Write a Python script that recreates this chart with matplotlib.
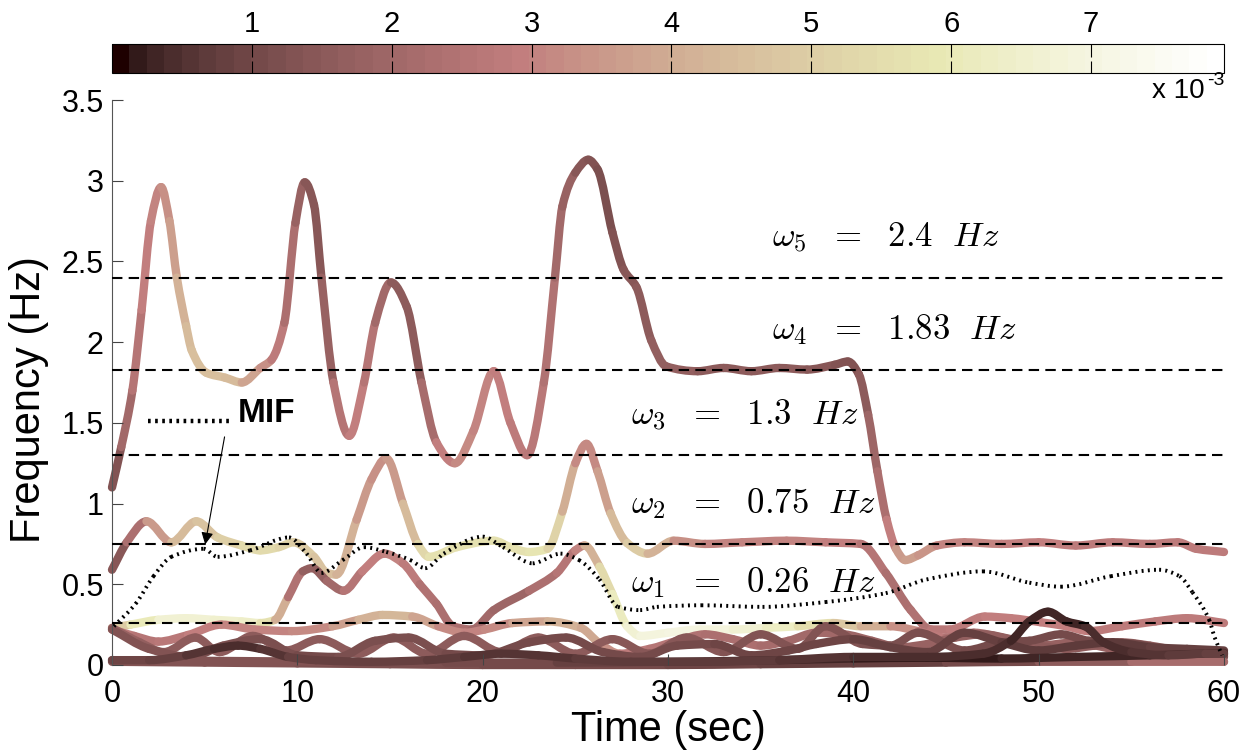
import numpy as np
import matplotlib
matplotlib.use("Agg")
import matplotlib.pyplot as plt
from matplotlib.collections import PatchCollection
from matplotlib.colors import Normalize
from matplotlib.cm import ScalarMappable
from matplotlib.path import Path
from matplotlib.patches import PathPatch

plt.rcParams.update({
    "font.family": ["Liberation Sans", "DejaVu Sans"],
    "mathtext.fontset": "cm",
})

# ---------------------------------------------------------------------------
# data: instantaneous frequency tracks (t [s], f [Hz], amplitude [x1e-3])
# ---------------------------------------------------------------------------
t_a = [0, 0.5, 1.1, 1.6, 2.1, 2.65, 3.1, 3.5, 4.0, 4.3, 5.1, 6.1, 7.0, 8.0, 8.6,
       9.3, 9.9, 10.4, 10.9, 11.3, 11.95, 12.8, 13.6, 14.2, 15.05, 15.9, 16.7,
       17.5, 18.5, 19.5, 20.6, 21.5, 22.4, 23.3, 23.9, 24.3, 25.0, 25.7, 26.2,
       27.0, 27.6, 28.3, 29.1, 29.9, 31.6, 33.0, 34.5, 36.0, 37.5, 39.0, 39.7,
       40.3, 40.8, 41.3, 41.8, 42.3, 42.8, 43.5, 44.5, 46.0, 48.0, 50.0, 52.0,
       54.0, 56.0, 57.5, 58.5, 60.0]
f_a = [1.10, 1.35, 1.70, 2.20, 2.75, 2.96, 2.75, 2.40, 2.10, 1.95, 1.81, 1.78,
       1.75, 1.84, 1.89, 2.12, 2.74, 2.99, 2.85, 2.40, 1.75, 1.42, 1.75, 2.12,
       2.37, 2.22, 1.75, 1.38, 1.25, 1.45, 1.82, 1.50, 1.30, 1.75, 2.40, 2.84,
       3.05, 3.13, 3.07, 2.68, 2.45, 2.34, 2.01, 1.85, 1.82, 1.84, 1.82, 1.84,
       1.83, 1.86, 1.88, 1.80, 1.55, 1.20, 0.90, 0.72, 0.65, 0.68, 0.74, 0.76,
       0.75, 0.76, 0.74, 0.76, 0.75, 0.76, 0.72, 0.70]
a_a = [1.0, 1.6, 2.4, 2.8, 3.0, 3.1, 3.4, 3.9, 4.3, 4.5, 4.6, 4.5, 4.2, 3.5, 3.1,
       2.6, 2.0, 1.5, 1.3, 1.5, 2.2, 3.0, 2.8, 2.3, 1.7, 1.3, 1.7, 2.6, 3.2, 3.2,
       3.0, 2.8, 2.7, 2.6, 2.2, 1.9, 1.6, 1.3, 1.2, 1.2, 1.3, 1.5, 1.6, 1.7, 1.6,
       1.6, 1.6, 1.5, 1.5, 1.3, 1.3, 1.4, 1.7, 2.1, 2.6, 3.2, 3.8, 3.6, 3.2, 3.0,
       3.0, 2.9, 2.9, 2.8, 2.9, 2.8, 2.9, 2.8]

t_b = [0, 0.8, 1.86, 3.2, 4.55, 5.7, 7.0, 8.0, 9.0, 9.8, 10.9, 11.6, 12.1, 13.2,
       14.0, 14.8, 15.7, 16.5, 17.1, 18.6, 20.6, 21.5, 22.5, 23.5, 24.3, 25.0,
       25.6, 26.2, 26.9, 27.8, 28.9, 30.3, 32.0, 34.0, 36.4, 38.5, 40.4, 41.75,
       43.1, 44.2, 45.2, 47.1, 48.5, 50.1, 51.5, 52.7, 54.5, 56.3, 58.0, 60.0]
f_b = [0.59, 0.76, 0.89, 0.76, 0.89, 0.79, 0.74, 0.71, 0.73, 0.76, 0.67, 0.57,
       0.56, 0.90, 1.15, 1.28, 1.00, 0.75, 0.67, 0.73, 0.77, 0.73, 0.70, 0.72,
       0.95, 1.25, 1.37, 1.20, 0.94, 0.755, 0.69, 0.77, 0.75, 0.76, 0.77, 0.76,
       0.75, 0.57, 0.34, 0.22, 0.22, 0.30, 0.29, 0.265, 0.24, 0.21, 0.24, 0.27,
       0.29, 0.26]
a_b = [1.0, 1.8, 2.8, 4.2, 4.6, 4.8, 5.2, 5.5, 5.3, 5.0, 4.8, 4.6, 4.4, 3.8,
       3.4, 3.2, 3.8, 5.0, 5.6, 5.8, 5.6, 5.6, 5.8, 5.8, 4.6, 3.4, 3.0, 3.3, 4.0,
       4.8, 5.0, 3.4, 3.1, 3.0, 3.0, 3.0, 2.8, 2.4, 2.3, 2.6, 2.8, 2.9, 2.9, 3.0,
       2.9, 2.9, 2.8, 2.8, 2.9, 2.8]

t_c = [0, 1.0, 2.5, 4.0, 5.5, 7.0, 8.0, 8.8, 9.5, 10.3, 10.8, 11.6, 12.5, 13.5,
       14.7, 15.7, 16.6, 17.5, 18.4, 19.4, 20.6, 22.5, 24.0, 25.0, 25.5, 26.3,
       27.0, 27.8, 28.5, 30.0, 31.7, 33.5, 35.3, 37.0, 38.9, 40.4, 42.0, 43.5,
       45.0, 46.5, 48.0, 50.0, 52.0, 54.0, 56.0, 58.0, 60.0]
f_c = [0.23, 0.25, 0.28, 0.29, 0.28, 0.27, 0.26, 0.28, 0.42, 0.58, 0.60, 0.52,
       0.46, 0.58, 0.69, 0.63, 0.50, 0.38, 0.24, 0.22, 0.34, 0.46, 0.57, 0.71,
       0.74, 0.61, 0.44, 0.24, 0.18, 0.20, 0.22, 0.22, 0.23, 0.24, 0.26, 0.24,
       0.24, 0.21, 0.17, 0.20, 0.17, 0.12, 0.14, 0.10, 0.08, 0.06, 0.02]
a_c = [4.2, 5.5, 6.5, 6.8, 6.6, 6.5, 6.2, 5.0, 3.0, 1.8, 1.6, 1.8, 2.2, 2.8,
       3.0, 3.0, 2.6, 2.3, 2.4, 2.2, 1.8, 2.1, 2.4, 2.8, 3.4, 5.0, 5.8, 6.5, 6.8,
       7.0, 7.0, 6.8, 6.5, 6.0, 5.0, 4.5, 3.6, 3.0, 2.5, 2.3, 2.0, 1.8, 1.8, 1.7,
       1.8, 2.5, 3.0]

t_d = [0, 1.2, 2.5, 4.1, 5.9, 7.7, 9.7, 11.9, 13.3, 14.6, 16.2, 17.6, 19.05,
       20.1, 21.6, 23.5, 25.3, 26.3, 27.4, 29.0, 30.5, 32.0, 33.5, 35.0, 36.5,
       38.0, 39.5, 41.0, 42.5, 44.0, 45.5, 47.0, 48.5, 50.0, 51.5, 53.0, 54.5,
       56.0, 57.5, 59.0, 60.0]
f_d = [0.22, 0.18, 0.145, 0.186, 0.25, 0.22, 0.21, 0.24, 0.28, 0.31, 0.30, 0.24,
       0.20, 0.22, 0.26, 0.27, 0.23, 0.135, 0.07, 0.10, 0.15, 0.19, 0.16, 0.12,
       0.15, 0.20, 0.19, 0.15, 0.11, 0.13, 0.17, 0.19, 0.16, 0.12, 0.10, 0.12,
       0.14, 0.12, 0.09, 0.07, 0.06]
a_d = [3.0, 2.6, 2.6, 2.8, 3.0, 3.0, 3.0, 3.3, 4.0, 4.4, 4.2, 3.4, 3.0, 3.0,
       3.4, 4.2, 4.2, 3.6, 3.0, 2.6, 2.4, 2.4, 2.3, 2.2, 2.1, 2.0, 2.0, 1.9, 1.8,
       1.8, 1.7, 1.7, 1.7, 1.6, 1.6, 1.6, 1.6, 1.7, 1.7, 1.8, 1.8]

t_e1 = [0, 1.5, 2.8, 4.5, 5.8, 7.6, 9.4, 11.2, 13.3, 15.2, 17.0, 19.0, 21.0,
        23.0, 25.0, 27.0, 29.0, 31.0, 33.0, 35.0, 37.0, 38.5, 40.5, 42.0, 43.5,
        46.0, 48.0, 49.5, 51.2, 52.7, 55.2, 57.5, 60.0]
f_e1 = [0.23, 0.14, 0.08, 0.17, 0.08, 0.18, 0.09, 0.16, 0.07, 0.17, 0.07, 0.18,
        0.08, 0.17, 0.07, 0.16, 0.07, 0.17, 0.08, 0.19, 0.10, 0.24, 0.13, 0.12,
        0.20, 0.09, 0.14, 0.15, 0.19, 0.15, 0.13, 0.08, 0.05]
a_e1 = [1.8, 1.7, 1.6, 1.6, 1.6, 1.6, 1.6, 1.6, 1.5, 1.6, 1.5, 1.6, 1.5, 1.5,
        1.5, 1.5, 1.4, 1.4, 1.4, 1.3, 1.3, 1.3, 1.2, 1.2, 1.2, 1.1, 1.1, 1.1,
        1.1, 1.0, 1.0, 1.1, 1.2]

t_e2 = [0, 2.0, 4.2, 6.0, 8.0, 10.0, 12.2, 14.2, 16.0, 18.0, 20.0, 22.5, 24.5,
        26.5, 28.5, 30.5, 32.5, 34.5, 36.5, 38.0, 40.0, 42.0, 44.0, 46.0, 48.0,
        50.0, 52.0, 54.0, 56.0, 58.0, 60.0]
f_e2 = [0.22, 0.10, 0.05, 0.12, 0.16, 0.06, 0.05, 0.15, 0.17, 0.07, 0.06, 0.14,
        0.17, 0.08, 0.05, 0.12, 0.13, 0.06, 0.09, 0.13, 0.16, 0.11, 0.08, 0.20,
        0.14, 0.09, 0.12, 0.14, 0.11, 0.10, 0.09]
a_e2 = [1.4, 1.3, 1.2, 1.2, 1.2, 1.1, 1.1, 1.2, 1.2, 1.1, 1.1, 1.1, 1.1, 1.0,
        1.0, 1.0, 1.0, 0.9, 0.9, 0.9, 0.9, 0.8, 0.8, 0.8, 0.7, 0.7, 0.7, 0.7,
        0.7, 0.8, 0.8]

t_f = [0, 2.0, 4.0, 5.5, 6.8, 8.0, 9.5, 11.0, 14.0, 17.0, 19.0, 21.0, 23.0,
       25.0, 28.0, 32.0, 36.0, 40.0, 44.0, 47.0, 48.5, 49.5, 50.5, 51.5, 52.5,
       53.5, 55.0, 57.0, 59.0, 60.0]
f_f = [0.03, 0.03, 0.06, 0.10, 0.12, 0.10, 0.05, 0.03, 0.02, 0.03, 0.05, 0.07,
       0.06, 0.04, 0.02, 0.02, 0.03, 0.05, 0.05, 0.07, 0.15, 0.27, 0.33, 0.27,
       0.24, 0.14, 0.08, 0.06, 0.07, 0.07]
a_f = [1.0, 0.9, 0.7, 0.5, 0.4, 0.5, 0.7, 0.8, 0.9, 0.8, 0.6, 0.5, 0.5, 0.6,
       0.7, 0.7, 0.6, 0.5, 0.4, 0.4, 0.35, 0.3, 0.3, 0.3, 0.35, 0.4, 0.5, 0.6,
       0.7, 0.8]

t_g = [0, 5, 10, 15, 20, 25, 30, 35, 40, 45, 50, 55, 60]
f_g = [0.02, 0.015, 0.01, 0.005, 0.0, 0.0, 0.0, 0.005, 0.01, 0.015, 0.02, 0.02,
       0.02]
a_g = [1.3, 1.3, 1.2, 1.2, 1.1, 1.1, 1.0, 0.9, 0.8, 0.9, 1.2, 1.8, 2.6]

t_h = [0, 6, 12, 18, 24, 30, 36, 40, 44, 48, 52, 56, 60]
f_h = [0.03, 0.025, 0.02, 0.015, 0.015, 0.02, 0.03, 0.04, 0.045, 0.04, 0.05,
       0.06, 0.075]
a_h = [1.4, 1.3, 1.2, 1.1, 1.0, 0.6, 0.3, 0.2, 0.2, 0.25, 0.3, 0.4, 0.5]

tracks = [(t_a, f_a, a_a), (t_b, f_b, a_b), (t_c, f_c, a_c), (t_d, f_d, a_d),
          (t_e1, f_e1, a_e1), (t_e2, f_e2, a_e2), (t_g, f_g, a_g),
          (t_h, f_h, a_h), (t_f, f_f, a_f)]

# marginal instantaneous frequency (dotted)
t_mif = [0.1, 1.28, 2.24, 3.2, 4.94, 5.7, 7.45, 9.55, 10.5, 11.3, 12.45, 13.6,
         14.8, 16.1, 16.9, 17.9, 20.0, 21.1, 22.7, 24.2, 25.2, 26.3, 27.3, 28.5,
         29.4, 31.8, 35.1, 38.5, 41.75, 43.95, 47.0, 49.5, 51.2, 53.9, 56.5,
         57.6, 58.3, 59.2, 59.5, 59.9]
f_mif = [0.24, 0.38, 0.55, 0.67, 0.72, 0.67, 0.71, 0.79, 0.69, 0.57, 0.65, 0.73,
         0.70, 0.65, 0.60, 0.69, 0.795, 0.73, 0.63, 0.69, 0.65, 0.53, 0.36, 0.34,
         0.36, 0.37, 0.36, 0.39, 0.445, 0.53, 0.58, 0.51, 0.485, 0.55, 0.59,
         0.55, 0.45, 0.28, 0.17, 0.06]

# mode frequencies
modes = ["1", "2", "3", "4", "5"]
omega = [0.26, 0.75, 1.3, 1.83, 2.4]
omega_txt = ["0.26", "0.75", "1.3", "1.83", "2.4"]

amp_min, amp_max = 0.0, 7.95      # x 1e-3
cbar_ticks = [1, 2, 3, 4, 5, 6, 7]


def hermite_paths(t, f):
    """One cubic Bezier path per knot interval (shape-preserving slopes)."""
    t = np.asarray(t, float)
    f = np.asarray(f, float)
    h = np.diff(t)
    d = np.diff(f) / h
    m = np.empty_like(f)
    m[0], m[-1] = d[0], d[-1]
    for i in range(1, len(f) - 1):
        if d[i - 1] * d[i] <= 0:
            m[i] = 0.0
        else:
            w1, w2 = 2 * h[i] + h[i - 1], h[i] + 2 * h[i - 1]
            m[i] = (w1 + w2) / (w1 / d[i - 1] + w2 / d[i])
    codes = [Path.MOVETO, Path.CURVE4, Path.CURVE4, Path.CURVE4]
    out = []
    for i in range(len(h)):
        v = [(t[i], f[i]),
             (t[i] + h[i] / 3, f[i] + m[i] * h[i] / 3),
             (t[i + 1] - h[i] / 3, f[i + 1] - m[i + 1] * h[i] / 3),
             (t[i + 1], f[i + 1])]
        out.append(Path(v, codes))
    return out


# ---------------------------------------------------------------------------
cmap = plt.get_cmap("pink").resampled(64)
norm = Normalize(amp_min, amp_max)

W, H = 1244, 753
fig = plt.figure(figsize=(W / 100, H / 100), dpi=100)
ax = fig.add_axes([112 / W, 88 / H, 1112 / W, 565 / H])
cax = fig.add_axes([112 / W, 680 / H, 1112 / W, 29 / H])

for t, f, a in tracks:
    paths = hermite_paths(t, f)
    amp_seg = 0.5 * (np.asarray(a[:-1]) + np.asarray(a[1:]))
    pc = PatchCollection([PathPatch(p) for p in paths], facecolors="none",
                         edgecolors=cmap(norm(amp_seg)), linewidths=6.0,
                         capstyle="round", joinstyle="round", clip_on=False)
    ax.add_collection(pc)

# dashed mode lines + labels
for m, w, txt in zip(modes, omega, omega_txt):
    ax.axhline(w, color="black", linestyle=(0, (5, 3)), linewidth=1.5, zorder=5)
    x0 = 35.6 if w > 1.5 else 28.0
    ax.text(x0, w + 0.25, r"$\omega_%s\ \ =\ \ %s\ \ Hz$" % (m, txt),
            fontsize=25, va="center", ha="left", zorder=6)

# MIF curve as one smooth dotted path
mif_paths = hermite_paths(t_mif, f_mif)
mif = Path.make_compound_path(*mif_paths)
ax.add_patch(PathPatch(mif, facecolor="none", edgecolor="black",
                       linestyle=(0, (0.5, 1.1)), linewidth=2.8, zorder=7,
                       clip_on=False))

# MIF legend + arrow
ax.plot([1.95, 6.3], [1.51, 1.51], color="black", linestyle=(0, (0.6, 1.0)),
        linewidth=3.2)
ax.text(6.8, 1.56, "MIF", fontsize=24, fontweight="bold", va="center", ha="left")
ax.annotate("", xy=(5.0, 0.73), xytext=(6.1, 1.43),
            arrowprops=dict(arrowstyle="-|>", color="black", lw=0.8,
                            mutation_scale=18), zorder=8)

ax.set_xlim(0, 60)
ax.set_ylim(0, 3.5)
ax.set_xticks(np.arange(0, 61, 10))
ax.set_yticks(np.arange(0, 3.51, 0.5))
ax.set_yticklabels(["0", "0.5", "1", "1.5", "2", "2.5", "3", "3.5"])
ax.tick_params(direction="in", length=8, width=0.8, colors="#444444",
               labelsize=22, labelcolor="black", pad=6)
ax.tick_params(axis="x", pad=10)
for s in ["top", "right", "bottom"]:
    ax.spines[s].set_visible(False)
ax.spines["left"].set_color("#555555")
ax.set_xlabel("Time (sec)", fontsize=30)
ax.set_ylabel("Frequency (Hz)", fontsize=30)
ax.xaxis.set_label_coords(0.5, -0.08)
ax.yaxis.set_label_coords(-0.057, 0.47)

sm = ScalarMappable(norm=norm, cmap=cmap)
cb = fig.colorbar(sm, cax=cax, orientation="horizontal")
cb.set_ticks(cbar_ticks)
cb.set_ticklabels([str(v) for v in cbar_ticks])
cax.tick_params(axis="x", direction="in", top=True, bottom=True, labeltop=True,
                labelbottom=False, length=9, width=0.8, labelsize=21, pad=4)
cb.outline.set_linewidth(0.8)
fig.text(1205 / W, 655 / H, "x 10", fontsize=20, ha="right", va="baseline")
fig.text(1207 / W, 668 / H, "-3", fontsize=14, ha="left", va="baseline")

fig.savefig("out.png", dpi=100, facecolor="white")
